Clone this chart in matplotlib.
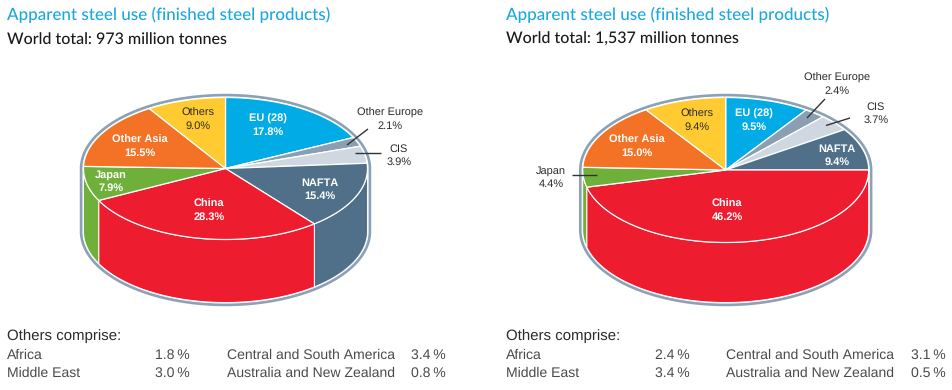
import numpy as np
import matplotlib
matplotlib.use("Agg")
import matplotlib.pyplot as plt
from matplotlib.patches import Polygon

plt.rcParams["text.hinting"] = "no_hinting"
plt.rcParams["text.hinting_factor"] = 1

categories = ["EU (28)", "Other Europe", "CIS", "NAFTA", "China", "Japan", "Other Asia", "Others"]
values_a = [17.8, 2.1, 3.9, 15.4, 28.3, 7.9, 15.5, 9.0]
values_b = [9.5, 2.4, 3.7, 9.4, 46.2, 4.4, 15.0, 9.4]
totals = ["973", "1,537"]
others_names = ["Africa", "Middle East", "Central and South America", "Australia and New Zealand"]
others_a = [1.8, 3.0, 3.4, 0.8]
others_b = [2.4, 3.4, 3.1, 0.5]

colors = ["#00ABE6", "#8A9FB2", "#CFD8E0", "#4F7088", "#ED1C2E", "#6FB03A", "#F47225", "#FFCB31"]
RIM = "#8BA1B5"
BLUE = "#1BA8E0"
DARK = "#2B2B2B"
GREY = "#4A4A4A"
SANS = ["Liberation Sans", "DejaVu Sans"]
NARROW = ["Lato", "Liberation Sans", "DejaVu Sans"]

fig = plt.figure(figsize=(9.53, 3.9), dpi=100, facecolor="white")
ax = fig.add_axes([0, 0, 1, 1])
ax.set_xlim(0, 953)
ax.set_ylim(390, 0)
ax.axis("off")

def pt(t, cx, cy, rx, ry):
    return cx + rx * np.sin(t), cy - ry * np.cos(t)

def arc(t0, t1, cx, cy, rx, ry):
    n = max(int(abs(t1 - t0) * 60), 4)
    t = np.linspace(t0, t1, n)
    x, y = pt(t, cx, cy, rx, ry)
    return np.column_stack([x, y])

def pie3d(values, cx, cy, rx, ry, depth):
    # outer rim around the whole body
    back = arc(-np.pi / 2, np.pi / 2, cx, cy, rx + 2.4, ry + 2.4)
    front = arc(np.pi / 2, 3 * np.pi / 2, cx, cy + depth, rx + 2.4, ry + 2.4)
    ax.add_patch(Polygon(np.vstack([back, front]), closed=True, fc="white", ec=RIM, lw=1.9, zorder=1))
    edges = np.concatenate([[0], np.cumsum(values)]) / np.sum(values) * 2 * np.pi
    # side walls
    for i, c in enumerate(colors):
        a, b = max(edges[i], np.pi / 2), min(edges[i + 1], 3 * np.pi / 2)
        if b <= a:
            continue
        top = arc(a, b, cx, cy, rx, ry)
        bot = arc(b, a, cx, cy + depth, rx, ry)
        ax.add_patch(Polygon(np.vstack([top, bot]), closed=True, fc=c, ec="white", lw=0.7, zorder=2))
    # top face
    for i, c in enumerate(colors):
        top = arc(edges[i], edges[i + 1], cx, cy, rx, ry)
        ax.add_patch(Polygon(np.vstack([[cx, cy], top]), closed=True, fc=c, ec="white", lw=0.9, zorder=3, joinstyle="round"))

def labels(values, places):
    for name, val, (x, y, col) in zip(categories, values, places):
        bold = col == "white"
        size = 7.6 if bold else 7.9
        ax.text(x, y, name, ha="center", va="center", fontsize=size, color=col, family=SANS,
                fontweight="bold" if bold else "normal", zorder=5)
        ax.text(x, y + 13, f"{val:.1f}%", ha="center", va="center", fontsize=size, color=col, family=SANS,
                fontweight="bold" if bold else "normal", zorder=5)

def header(x, total):
    ax.text(x, 15, "Apparent steel use (finished steel products)", color=BLUE, fontsize=12.4,
            fontweight=500, family=NARROW, ha="left", va="center")
    ax.text(x, 39.5, f"World total: {total} million tonnes", color="#1A1A1A", fontsize=11.4,
            fontweight=500, family=NARROW, ha="left", va="center")

def footer(x0, xv0, x1, xv1, vals):
    ax.text(x0, 336, "Others comprise:", fontsize=10.5, color=DARK, family=SANS, ha="left", va="center")
    rows = [(x0, xv0, 355, 0), (x0, xv0, 373, 1), (x1, xv1, 355, 2), (x1, xv1, 373, 3)]
    for xn, xv, y, i in rows:
        ax.text(xn, y, others_names[i], fontsize=9.8, color=GREY, family=SANS, ha="left", va="center")
        ax.text(xv, y, f"{vals[i]:.1f}\u2009%", fontsize=9.8, color=GREY, family=SANS, ha="right", va="center")

def leader(x0, y0, x1, y1):
    ax.plot([x0, x1], [y0, y1], color="#333333", lw=1.0, zorder=6, solid_capstyle="butt")

pie3d(values_a, 225.5, 168.5, 142, 71, 63)
pie3d(values_b, 725.7, 170, 143, 72.5, 60)

labels(values_a, [(268, 119, "white"), (390, 113, DARK), (399, 149, DARK), (320, 183, "white"),
                  (209, 204, "white"), (111, 175, "white"), (140, 140, "white"), (198, 113, DARK)])
labels(values_b, [(754, 114, "white"), (837, 78, DARK), (876, 107, DARK), (837, 149, "white"),
                  (727, 204, "white"), (551, 171, DARK), (637, 140, "white"), (697, 114, DARK)])

leader(347, 145, 368, 129)
leader(355, 153, 381, 153)
leader(807, 118, 825, 99)
leader(826, 125.5, 850, 118)
leader(572, 175, 597, 175)

header(7, totals[0])
header(506, totals[1])
footer(7, 190, 227, 446, others_a)
footer(506, 690, 726, 946, others_b)

fig.savefig("out.png", dpi=100, facecolor="white")
